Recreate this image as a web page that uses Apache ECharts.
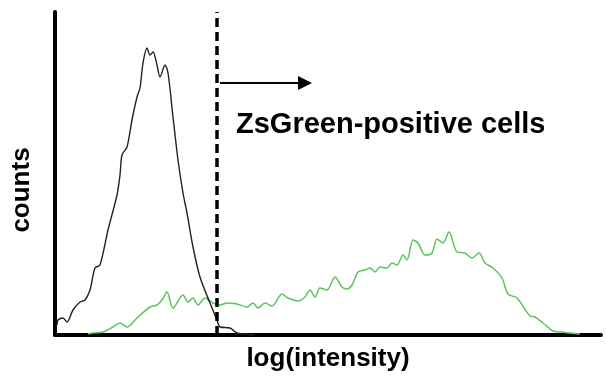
<!DOCTYPE html>
<html>
<head>
<meta charset="utf-8">
<script src="https://cdn.jsdelivr.net/npm/echarts@6/dist/echarts.min.js"></script>
<style>html,body{margin:0;padding:0;background:#fff}#c{width:606px;height:383px}</style>
</head>
<body>
<div id="c"></div>
<script>
// x: fluorescence channel (log scale, arbitrary units), y: counts
const blackX = [2,3,8,12,18,25,30,35,40,45,53,62,65,67,72,77,82,85,88,92,95,98,102,105,110,113,118,123,128,132,138,145,155,162,165,175,182,190,200];
const blackY = [10,15,17,13,25,33,35,45,67,70,105,140,160,180,188,215,238,247,272,287,280,283,270,258,270,262,218,175,142,122,88,58,32,15,8,7,2,1,0];
const greenX = [33,38,48,58,65,72,82,95,102,107,112,118,128,133,138,143,150,158,165,172,182,192,198,203,210,217,227,233,243,250,255,260,265,272,280,287,292,297,303,310,315,320,325,332,337,342,348,352,358,363,370,377,382,388,394,402,410,417,424,430,438,447,453,462,475,480,488,498,505,515,525];
const greenY = [1,2,3,8,12,8,17,28,30,35,43,27,40,33,37,30,37,32,30,32,31,28,32,27,32,29,41,37,34,38,45,38,47,45,58,48,46,50,63,65,67,63,68,67,72,70,80,75,95,92,80,82,96,92,103,83,82,77,82,72,67,57,41,37,19,18,12,4,3,2,1];
const gateX = 162;
const arrowFrom = [165, 252];
const arrowTo = [250, 252];
const labels = { x: 'log(intensity)', y: 'counts', gate: 'ZsGreen-positive cells' };

const chart = echarts.init(document.getElementById('c'));
const pair = (xs, ys) => xs.map((x, i) => [x, ys[i]]);
const font = '"Liberation Sans", Arial, sans-serif';
chart.setOption({
  animation: false,
  grid: { left: 55, right: 5, top: 12, bottom: 48, containLabel: false, outerBoundsMode: 'none' },
  xAxis: {
    type: 'value', min: 0, max: 546,
    name: labels.x, nameLocation: 'middle', nameGap: 11,
    nameTextStyle: { fontFamily: font, fontWeight: 'bold', fontSize: 26, color: '#000', verticalAlign: 'top' },
    axisLine: { show: true, onZero: false, lineStyle: { color: '#000', width: 4 } },
    axisTick: { show: false }, axisLabel: { show: false }, splitLine: { show: false }
  },
  yAxis: {
    type: 'value', min: 0, max: 323,
    axisLine: { show: true, lineStyle: { color: '#000', width: 4 } },
    axisTick: { show: false }, axisLabel: { show: false }, splitLine: { show: false }
  },
  series: [
    {
      type: 'line', data: pair(blackX, blackY), showSymbol: false, smooth: 0.3,
      lineStyle: { color: '#222', width: 1.4 }, z: 3,
      markLine: {
        silent: true, symbol: ['none', 'none'], label: { show: false },
        lineStyle: { color: '#000', width: 3.5, type: [9, 5] },
        data: [{ xAxis: gateX }]
      }
    },
    {
      type: 'line', data: pair(greenX, greenY), showSymbol: false, smooth: 0.3,
      lineStyle: { color: '#5cc45c', width: 1.5 }, z: 2,
      markLine: {
        silent: true, symbol: ['none', 'triangle'], symbolSize: [14, 14],
        label: { show: false },
        lineStyle: { color: '#000', width: 2, type: 'solid' },
        data: [[{ coord: arrowFrom }, { coord: arrowTo }]]
      }
    }
  ],
  graphic: [
    { type: 'text', left: 236, top: 110, style: { text: labels.gate, fontFamily: font, fontWeight: 'bold', fontSize: 29, fill: '#000' } },
    { type: 'text', x: 22, y: 190, rotation: Math.PI / 2,
      style: { text: labels.y, fontFamily: font, fontWeight: 'bold', fontSize: 26, fill: '#000', align: 'center', verticalAlign: 'middle' } }
  ]
});
</script>
</body>
</html>
